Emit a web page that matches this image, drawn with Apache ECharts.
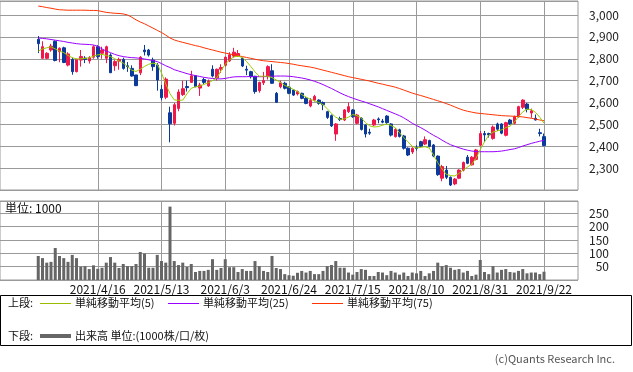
<!DOCTYPE html>
<html><head><meta charset="utf-8">
<script src="https://cdn.jsdelivr.net/npm/echarts@6/dist/echarts.min.js"></script>
<style>html,body{margin:0;padding:0;background:#fff}#c{width:633px;height:372px}</style>
</head><body><div id="c"></div>
<script>
const dates = [
 '2021/3/29','2021/3/30','2021/3/31','2021/4/1','2021/4/2','2021/4/5','2021/4/6','2021/4/7','2021/4/8','2021/4/9',
 '2021/4/12','2021/4/13','2021/4/14','2021/4/15','2021/4/16','2021/4/19','2021/4/20','2021/4/21','2021/4/22','2021/4/23',
 '2021/4/26','2021/4/27','2021/4/28','2021/4/30','2021/5/6','2021/5/7','2021/5/10','2021/5/11','2021/5/12','2021/5/13',
 '2021/5/14','2021/5/17','2021/5/18','2021/5/19','2021/5/20','2021/5/21','2021/5/24','2021/5/25','2021/5/26','2021/5/27',
 '2021/5/28','2021/5/31','2021/6/1','2021/6/2','2021/6/3','2021/6/4','2021/6/7','2021/6/8','2021/6/9','2021/6/10',
 '2021/6/11','2021/6/14','2021/6/15','2021/6/16','2021/6/17','2021/6/18','2021/6/21','2021/6/22','2021/6/23','2021/6/24',
 '2021/6/25','2021/6/28','2021/6/29','2021/6/30','2021/7/1','2021/7/2','2021/7/5','2021/7/6','2021/7/7','2021/7/8',
 '2021/7/9','2021/7/12','2021/7/13','2021/7/14','2021/7/15','2021/7/16','2021/7/19','2021/7/20','2021/7/21','2021/7/26',
 '2021/7/27','2021/7/28','2021/7/29','2021/7/30','2021/8/2','2021/8/3','2021/8/4','2021/8/5','2021/8/6','2021/8/10',
 '2021/8/11','2021/8/12','2021/8/13','2021/8/16','2021/8/17','2021/8/18','2021/8/19','2021/8/20','2021/8/23','2021/8/24',
 '2021/8/25','2021/8/26','2021/8/27','2021/8/30','2021/8/31','2021/9/1','2021/9/2','2021/9/3','2021/9/6','2021/9/7',
 '2021/9/8','2021/9/9','2021/9/10','2021/9/13','2021/9/14','2021/9/15','2021/9/16','2021/9/17','2021/9/21','2021/9/22'];

const tickLabels = ['2021/4/16','2021/5/13','2021/6/3','2021/6/24','2021/7/15','2021/8/10','2021/8/31','2021/9/22'];

const opens = [2889,2802,2802,2840,2880,2832,2850,2771,2797,2741, 2794,2803,2790,2807,2855,2825,2802,2817,2768,2789,
 2797,2768,2756,2726,2736,2840,2840,2794,2771,2660, 2624,2553,2505,2573,2636,2673,2692,2722,2666,2705,
 2676,2752,2712,2752,2770,2790,2812,2813,2802,2752, 2741,2720,2654,2690,2718,2745,2642,2672,2688,2670,
 2657,2639,2642,2619,2584,2611,2611,2600,2558,2540, 2456,2527,2520,2558,2566,2505,2528,2497,2464,2497,
 2525,2515,2538,2502,2444,2475,2447,2391,2374,2395, 2421,2410,2426,2406,2355,2254,2291,2258,2228,2254,
 2291,2350,2315,2340,2405,2458,2458,2436,2502,2502, 2450,2520,2505,2535,2578,2593,2552,2528,2462,2444];
const closes = [2869,2855,2825,2858,2792,2848,2783,2822,2741,2797, 2810,2797,2805,2855,2810,2840,2855,2736,2787,2797,
 2756,2764,2721,2677,2807,2832,2817,2764,2703,2622, 2707,2503,2590,2648,2663,2668,2722,2672,2680,2692,
 2698,2721,2752,2760,2807,2818,2830,2824,2767,2748, 2718,2650,2692,2700,2764,2688,2601,2690,2665,2642,
 2634,2650,2619,2596,2610,2628,2596,2590,2532,2493, 2502,2522,2566,2581,2535,2543,2477,2456,2460,2520,
 2521,2510,2508,2451,2477,2445,2391,2360,2391,2390, 2400,2430,2400,2355,2270,2307,2258,2223,2250,2291,
 2326,2322,2350,2383,2458,2452,2452,2488,2478,2460, 2508,2503,2535,2581,2611,2569,2562,2520,2458,2403];
const lows = [2826,2800,2798,2832,2788,2784,2780,2765,2727,2738, 2764,2780,2778,2800,2800,2800,2780,2735,2745,2750,
 2750,2740,2718,2675,2725,2815,2810,2745,2654,2610, 2615,2418,2495,2560,2630,2650,2690,2670,2630,2685,
 2672,2715,2700,2735,2765,2785,2805,2810,2762,2725, 2710,2640,2645,2680,2705,2685,2598,2665,2660,2638,
 2630,2632,2615,2592,2578,2605,2590,2565,2525,2488, 2425,2515,2515,2552,2530,2500,2472,2440,2452,2492,
 2505,2505,2502,2445,2440,2440,2385,2355,2365,2380, 2395,2405,2395,2350,2265,2240,2250,2218,2222,2250,
 2285,2318,2312,2335,2400,2420,2440,2430,2470,2455, 2445,2498,2500,2530,2570,2555,2530,2518,2445,2400];
const highs = [2904,2880,2830,2868,2884,2852,2855,2830,2805,2800, 2840,2812,2812,2862,2862,2855,2860,2825,2794,2805,
 2805,2785,2770,2726,2812,2863,2845,2805,2780,2680, 2715,2581,2598,2660,2700,2700,2745,2725,2690,2712,
 2705,2770,2755,2775,2810,2830,2850,2840,2805,2768, 2745,2722,2695,2740,2770,2775,2648,2700,2695,2675,
 2660,2655,2645,2625,2620,2635,2615,2605,2562,2545, 2506,2535,2570,2600,2570,2548,2532,2500,2480,2525,
 2532,2525,2542,2505,2483,2480,2452,2395,2395,2405, 2425,2445,2430,2410,2358,2315,2310,2262,2255,2295,
 2330,2360,2355,2388,2470,2470,2462,2495,2508,2505, 2512,2525,2540,2585,2615,2598,2572,2545,2480,2458];

const ma5 = [2835,2845,2850,2855,2845,2835,2828,2815,2805,2799, 2800,2802,2804,2812,2818,2820,2815,2810,2800,2790,
 2780,2765,2748,2742,2752,2765,2775,2780,2775,2735, 2685,2640,2612,2610,2611,2640,2665,2672,2675,2683,
 2690,2700,2712,2745,2775,2795,2808,2812,2806,2788, 2765,2740,2720,2720,2720,2714,2703,2692,2678,2670,
 2660,2650,2636,2625,2615,2608,2600,2590,2572,2550, 2533,2523,2525,2533,2545,2540,2530,2508,2493,2488,
 2490,2496,2502,2495,2485,2462,2440,2420,2400,2392, 2395,2398,2392,2360,2325,2296,2272,2266,2264,2276,
 2292,2305,2318,2345,2385,2420,2450,2465,2470,2475, 2485,2492,2510,2535,2557,2570,2568,2555,2533,2505];
const ma25 = [2895,2893,2891,2888,2885,2882,2879,2875,2872,2869, 2867,2866,2865,2863,2857,2845,2835,2828,2820,2814,
 2810,2807,2805,2804,2802,2799,2795,2792,2787,2778, 2768,2760,2750,2744,2738,2732,2727,2723,2719,2715,
 2712,2710,2708,2708,2710,2714,2717,2718,2718,2718, 2719,2718,2718,2718,2719,2720,2721,2721,2721,2720,
 2718,2715,2712,2708,2703,2697,2690,2682,2673,2664, 2654,2644,2635,2627,2620,2613,2607,2601,2594,2587,
 2580,2572,2564,2556,2548,2540,2530,2518,2505,2495, 2485,2474,2462,2450,2440,2428,2417,2407,2400,2393,
 2387,2382,2378,2376,2375,2375,2375,2375,2376,2378, 2381,2385,2388,2394,2401,2407,2413,2418,2423,2427];
const ma75 = [3041,3038,3034,3031,3027,3024,3023,3022,3022,3022, 3022,3022,3021,3021,3020,3016,3012,3010,3008,3007,
 3005,3000,2990,2978,2968,2960,2950,2940,2930,2920, 2908,2895,2886,2880,2875,2870,2865,2860,2856,2850,
 2845,2840,2835,2830,2826,2822,2818,2814,2810,2806, 2802,2798,2794,2791,2789,2787,2785,2783,2781,2778,
 2775,2771,2768,2765,2762,2758,2753,2748,2743,2738, 2733,2728,2723,2718,2714,2710,2706,2702,2698,2693,
 2688,2684,2679,2675,2670,2664,2657,2650,2643,2637, 2632,2626,2620,2614,2608,2602,2595,2588,2580,2572,
 2565,2560,2556,2552,2550,2548,2546,2544,2542,2540, 2539,2538,2537,2536,2534,2531,2528,2524,2520,2517];

const volumes = [90,82,65,68,120,90,82,68,94,82, 50,52,41,55,42,46,65,86,65,45,
 60,52,52,60,105,99,46,46,94,71, 65,275,71,56,65,49,60,30,34,34,
 38,78,38,45,78,48,48,30,41,34, 34,71,52,34,30,90,45,41,22,18,
 16,27,34,28,34,22,22,34,52,56, 71,46,46,28,20,30,41,38,15,15,
 30,28,18,34,28,20,28,15,28,25, 34,15,25,34,65,52,56,46,38,41,
 28,34,15,20,75,30,22,52,28,38, 41,30,28,34,41,25,28,28,22,31];

const PAD_L = 9, PAD_R = 8;
const FONT = '"Noto Sans CJK JP","Noto Sans",sans-serif';
const UP = '#f0184a', DOWN = '#0b3a9b', GRID = '#9a9a9a';

const cats = Array.from({length: PAD_L}, (_, i) => 'L' + i)
  .concat(dates, Array.from({length: PAD_R}, (_, i) => 'R' + i));
const pad = arr => Array(PAD_L).fill('-').concat(arr, Array(PAD_R).fill('-'));
const tickSet = new Set(tickLabels);
const isTick = (idx, val) => tickSet.has(val);
const candles = dates.map((d, i) => [opens[i], closes[i], lows[i], highs[i]]);

const chart = echarts.init(document.getElementById('c'), null, {renderer: 'canvas'});
const xBase = {
  type: 'category', data: cats, boundaryGap: false,
  axisLine: {show: false}, axisTick: {show: false},
  splitLine: {show: true, interval: isTick, lineStyle: {color: GRID, width: 1}}
};
chart.setOption({
  animation: false,
  textStyle: {fontFamily: FONT},
  grid: [
    {left: 0, top: 1, width: 578, height: 189, show: true, borderColor: GRID, borderWidth: 1},
    {left: 0, top: 201, width: 578, height: 79, show: true, borderColor: GRID, borderWidth: 1}
  ],
  xAxis: [
    Object.assign({}, xBase, {gridIndex: 0, axisLabel: {show: false}}),
    Object.assign({}, xBase, {gridIndex: 1, axisLabel: {show: true, interval: isTick, margin: 3,
      fontSize: 12, color: '#111', fontFamily: FONT, formatter: v => tickSet.has(v) ? v : ''}})
  ],
  yAxis: [
    {type: 'value', gridIndex: 0, position: 'right', min: 2200, max: 3064, interval: 100,
     axisLine: {show: false}, axisTick: {show: false},
     splitLine: {lineStyle: {color: GRID, width: 1}},
     axisLabel: {margin: 11, fontSize: 12, color: '#222', fontFamily: FONT,
       formatter: v => (v % 100 === 0 && v > 2200 && v <= 3000) ? v.toLocaleString('en-US') : ''}},
    {type: 'value', gridIndex: 1, position: 'right', min: 0, max: 296, interval: 50,
     axisLine: {show: false}, axisTick: {show: false},
     splitLine: {lineStyle: {color: GRID, width: 1}},
     axisLabel: {margin: 31, align: 'right', fontSize: 12, color: '#222', fontFamily: FONT,
       formatter: v => (v % 50 === 0 && v > 0 && v <= 250) ? String(v) : ''}}
  ],
  series: [
    {type: 'candlestick', xAxisIndex: 0, yAxisIndex: 0, data: pad(candles), barWidth: 3,
     itemStyle: {color: UP, color0: DOWN, borderColor: UP, borderColor0: DOWN, borderWidth: 1}},
    {type: 'line', name: '単純移動平均(75)', xAxisIndex: 0, yAxisIndex: 0, data: pad(ma75), showSymbol: false,
     lineStyle: {color: '#ff3300', width: 1}, itemStyle: {color: '#ff3300'}},
    {type: 'line', name: '単純移動平均(25)', xAxisIndex: 0, yAxisIndex: 0, data: pad(ma25), showSymbol: false,
     lineStyle: {color: '#9900ff', width: 1}, itemStyle: {color: '#9900ff'}},
    {type: 'line', name: '単純移動平均(5)', xAxisIndex: 0, yAxisIndex: 0, data: pad(ma5), showSymbol: false,
     lineStyle: {color: '#99cc00', width: 1}, itemStyle: {color: '#99cc00'}},
    {type: 'bar', name: '出来高', xAxisIndex: 1, yAxisIndex: 1, data: pad(volumes), barWidth: 3,
     itemStyle: {color: '#666666'}}
  ],
  graphic: [
    {type: 'text', x: 5, y: 208, style: {text: '単位: 1000', font: '12px ' + FONT, fill: '#111', verticalAlign: 'middle'}},
    {type: 'rect', shape: {x: 0.5, y: 295.5, width: 631, height: 50}, style: {fill: '#fff', stroke: '#000', lineWidth: 1}},
    {type: 'text', x: 8, y: 303, style: {text: '上段:', font: '11px ' + FONT, fill: '#111', verticalAlign: 'middle'}},
    {type: 'line', shape: {x1: 40, y1: 303.5, x2: 71, y2: 303.5}, style: {stroke: '#99bb00', lineWidth: 1}},
    {type: 'text', x: 75, y: 303, style: {text: '単純移動平均(5)', font: '11px ' + FONT, fill: '#111', verticalAlign: 'middle'}},
    {type: 'line', shape: {x1: 168, y1: 303.5, x2: 199, y2: 303.5}, style: {stroke: '#9900ff', lineWidth: 1}},
    {type: 'text', x: 203, y: 303, style: {text: '単純移動平均(25)', font: '11px ' + FONT, fill: '#111', verticalAlign: 'middle'}},
    {type: 'line', shape: {x1: 312, y1: 303.5, x2: 343, y2: 303.5}, style: {stroke: '#ff3300', lineWidth: 1}},
    {type: 'text', x: 347, y: 303, style: {text: '単純移動平均(75)', font: '11px ' + FONT, fill: '#111', verticalAlign: 'middle'}},
    {type: 'text', x: 8, y: 336, style: {text: '下段:', font: '11px ' + FONT, fill: '#111', verticalAlign: 'middle'}},
    {type: 'line', shape: {x1: 40, y1: 336, x2: 71, y2: 336}, style: {stroke: '#666666', lineWidth: 4}},
    {type: 'text', x: 75, y: 336, style: {text: '出来高 単位:(1000株/口/枚)', font: '11px ' + FONT, fill: '#111', verticalAlign: 'middle'}},
    {type: 'text', x: 615, y: 359, style: {text: '(c)Quants Research Inc.', font: '11px ' + FONT, fill: '#555', align: 'right', verticalAlign: 'middle'}}
  ]
});
</script></body></html>
